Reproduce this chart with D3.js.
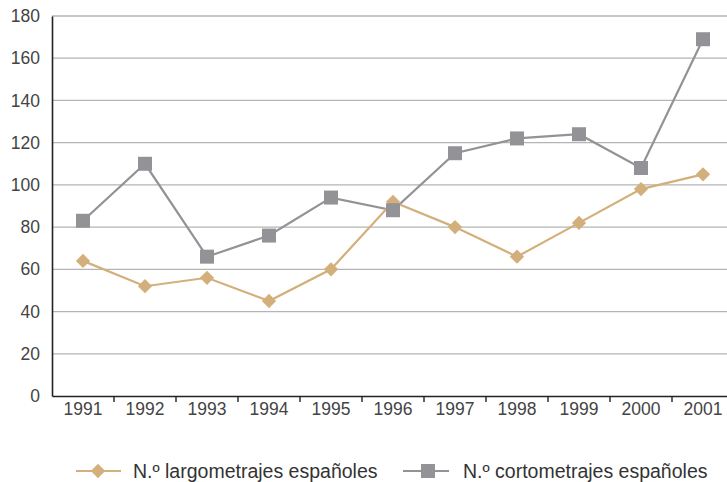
<!DOCTYPE html>
<html><head><meta charset="utf-8">
<script src="https://cdn.jsdelivr.net/npm/d3@7"></script>
<style>
body{margin:0;background:#fff;}
svg{display:block;font-family:"Liberation Sans",Arial,sans-serif;}
</style></head>
<body>
<svg id="c" width="727" height="482"></svg>
<script>
const years = ["1991","1992","1993","1994","1995","1996","1997","1998","1999","2000","2001"];
const largometrajes = [64,52,56,45,60,92,80,66,82,98,105];
const cortometrajes = [83,110,66,76,94,88,115,122,124,108,169];
const yTicks = [0,20,40,60,80,100,120,140,160,180];
const seriesNames = ["N.º largometrajes españoles","N.º cortometrajes españoles"];

(function(){
const svg = d3.select("#c");
const mLeft = 52, mRight = 734, mTop = 16, mBottom = 396;
const x = d3.scaleBand().domain(years).range([mLeft, mRight]);
const y = d3.scaleLinear().domain([0,180]).range([mBottom, mTop]);
const tan = "#d3af7b", grey = "#939397";
const txt = "#444";

// gridlines
svg.append("g").selectAll("line").data(yTicks.filter(d=>d>0)).join("line")
  .attr("x1", mLeft).attr("x2", 727)
  .attr("y1", d=>y(d)).attr("y2", d=>y(d))
  .attr("stroke", "#b4b4b4").attr("stroke-width", 1.3);

// y axis
const ya = svg.append("g").attr("transform",`translate(${mLeft},0)`)
  .call(d3.axisLeft(y).tickValues(yTicks).tickSize(0).tickPadding(12));
ya.select(".domain").attr("stroke","#222").attr("stroke-width",1.6);
ya.selectAll("text").attr("font-size",17.5).attr("fill",txt).attr("font-family","Liberation Sans, Arial, sans-serif");

// x axis
const xa = svg.append("g").attr("transform",`translate(0,${mBottom})`)
  .call(d3.axisBottom(x).tickSize(0).tickPadding(7));
xa.select(".domain").attr("stroke","#222").attr("stroke-width",1.6);
xa.selectAll("text").attr("font-size",17.5).attr("fill",txt).attr("font-family","Liberation Sans, Arial, sans-serif");
// boundary ticks
svg.append("g").selectAll("line").data(years.slice(1)).join("line")
  .attr("x1", d=>x(d)).attr("x2", d=>x(d))
  .attr("y1", mBottom).attr("y2", mBottom+6)
  .attr("stroke","#222").attr("stroke-width",1.4);

const cx = d => x(d) + x.bandwidth()/2;
const line = d3.line().x((d,i)=>cx(years[i])).y(d=>y(d));

svg.append("path").datum(cortometrajes).attr("d", line)
  .attr("fill","none").attr("stroke",grey).attr("stroke-width",2.2);
svg.append("path").datum(largometrajes).attr("d", line)
  .attr("fill","none").attr("stroke",tan).attr("stroke-width",2.2);

const diamond = d3.symbol().type(d3.symbolDiamond2).size(130);
const square = d3.symbol().type(d3.symbolSquare).size(196);

svg.append("g").selectAll("path").data(largometrajes).join("path")
  .attr("d", diamond)
  .attr("transform",(d,i)=>`translate(${cx(years[i])},${y(d)})`)
  .attr("fill",tan);
svg.append("g").selectAll("path").data(cortometrajes).join("path")
  .attr("d", square)
  .attr("transform",(d,i)=>`translate(${cx(years[i])},${y(d)})`)
  .attr("fill",grey);

// legend
const ly = 471;
const lg = svg.append("g");
lg.append("line").attr("x1",76).attr("x2",121).attr("y1",ly).attr("y2",ly).attr("stroke",tan).attr("stroke-width",2.2);
lg.append("path").attr("d",diamond).attr("transform",`translate(98,${ly})`).attr("fill",tan);
lg.append("text").attr("x",133).attr("y",ly+6.5).attr("font-size",19.5).attr("fill","#333").text(seriesNames[0]);
lg.append("line").attr("x1",403).attr("x2",449).attr("y1",ly).attr("y2",ly).attr("stroke",grey).attr("stroke-width",2.2);
lg.append("path").attr("d",square).attr("transform",`translate(428,${ly})`).attr("fill",grey);
lg.append("text").attr("x",463).attr("y",ly+6.5).attr("font-size",19.5).attr("fill","#333").text(seriesNames[1]);
})();
</script>
</body></html>
